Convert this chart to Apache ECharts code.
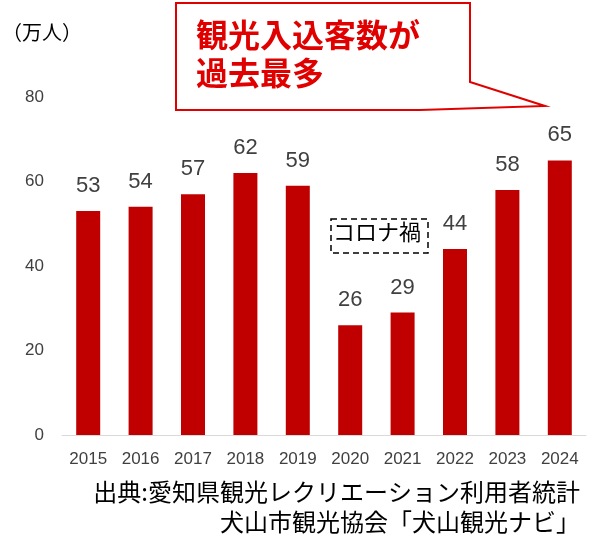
<!DOCTYPE html><html><head><meta charset="utf-8">
<script src="https://cdn.jsdelivr.net/npm/echarts@6/dist/echarts.min.js"></script>
<style>html,body{margin:0;padding:0;background:#fff}#c{width:600px;height:545px}</style></head><body><div id="c"></div>
<script>
const years=['2015','2016','2017','2018','2019','2020','2021','2022','2023','2024'];
const visitors=[53,54,57,62,59,26,29,44,58,65];
const yTicks=[0,20,40,60,80];
const F='"Noto Sans CJK JP",sans-serif';
const ch=echarts.init(document.getElementById('c'));
ch.setOption({
 animation:false,
 grid:{left:62,right:14,top:97,bottom:110},
 xAxis:{type:'category',data:years,axisTick:{show:false},axisLine:{lineStyle:{color:'#d9d9d9'}},
  axisLabel:{color:'#404040',fontSize:17,fontFamily:'Liberation Sans, Arial',margin:16}},
 yAxis:{type:'value',min:0,max:80,interval:20,splitLine:{show:false},
  axisLabel:{color:'#404040',fontSize:17,fontFamily:'Liberation Sans, Arial',margin:18}},
 series:[{type:'bar',data:visitors,barWidth:24,itemStyle:{color:'#C00000'},
  label:{show:true,position:'top',distance:14,color:'#404040',fontSize:22,fontFamily:'Liberation Sans, Arial'}}],
 graphic:[
  {type:'text',left:2,top:22,style:{text:'（万人）',font:'20px '+F,fill:'#000'}},
  {type:'polygon',shape:{points:[[176,3],[470,3],[470,82],[545,106],[420,110],[176,110]]},
   style:{fill:'#fff',stroke:'#e00000',lineWidth:2}},
  {type:'text',left:196,top:16,style:{text:'観光入込客数が\n過去最多',font:'bold 32px '+F,fill:'#e00000',lineHeight:38}},
  {type:'rect',shape:{x:331,y:219,width:97,height:34},style:{fill:'none',stroke:'#000',lineWidth:1.5,lineDash:[6,4]}},
  {type:'text',left:333,top:221,style:{text:'コロナ禍',font:'22px '+F,fill:'#000'}},
  {type:'text',right:20,top:480,style:{text:'出典:愛知県観光レクリエーション利用者統計',font:'24px '+F,fill:'#000',align:'right'}},
  {type:'text',right:20,top:510,style:{text:'犬山市観光協会「犬山観光ナビ」',font:'24px '+F,fill:'#000',align:'right'}}
 ]
});
</script></body></html>
